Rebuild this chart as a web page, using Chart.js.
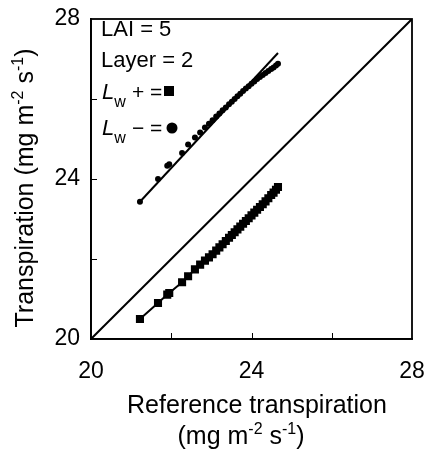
<!DOCTYPE html>
<html>
<head>
<meta charset="utf-8">
<script src="https://cdn.jsdelivr.net/npm/chart.js@4"></script>
<style>
  html, body { margin: 0; padding: 0; background: #fff; }
  #wrap { width: 427px; height: 453px; }
</style>
</head>
<body>
<div id="wrap"><canvas id="chart-transpiration" width="427" height="453"></canvas></div>
<script>
// reference transpiration (x) shared by both series
var reference_x = [21.22, 21.67, 21.9, 21.95, 22.27, 22.42, 22.59, 22.72, 22.84, 22.94,
  23.03, 23.12, 23.2, 23.28, 23.36, 23.44, 23.51, 23.58, 23.65, 23.72,
  23.79, 23.86, 23.93, 24.0, 24.07, 24.14, 24.21, 24.28, 24.35, 24.42,
  24.49, 24.55, 24.61, 24.66];
// Lw + (squares)
var lw_plus_y = [20.5, 20.9, 21.11, 21.15, 21.42, 21.57, 21.74, 21.86, 21.96, 22.04,
  22.12, 22.21, 22.29, 22.37, 22.45, 22.53, 22.6, 22.67, 22.74, 22.81,
  22.88, 22.95, 23.02, 23.09, 23.16, 23.23, 23.3, 23.37, 23.44, 23.52,
  23.6, 23.66, 23.73, 23.8];
// Lw - (circles)
var lw_minus_y = [23.43, 24.0, 24.33, 24.37, 24.65, 24.86, 25.04, 25.16, 25.29, 25.38,
  25.47, 25.56, 25.64, 25.72, 25.79, 25.87, 25.93, 26.0, 26.07, 26.13,
  26.2, 26.26, 26.32, 26.38, 26.44, 26.5, 26.55, 26.6, 26.65, 26.7,
  26.75, 26.79, 26.84, 26.88];
// straight line drawn through the Lw - points
var fit_x = [21.22, 24.66];
var fit_minus_y = [23.43, 27.15];
// 1:1 line
var one_to_one = [20, 28];
var tick_labels = [20, 24, 28];
var minor_ticks = [22, 24, 26];

var FONT = '"Liberation Sans", Arial, sans-serif';

function pairs(xs, ys) {
  return xs.map(function (x, i) { return { x: x, y: ys[i] }; });
}

// text made of pieces (superscripts, subscripts), drawn left to right from x
function drawParts(ctx, parts, x, y) {
  parts.forEach(function (p) {
    ctx.font = p.font;
    ctx.fillText(p.text, x, y + (p.dy || 0));
    x += ctx.measureText(p.text).width;
  });
  return x;
}

function partsWidth(ctx, parts) {
  var w = 0;
  parts.forEach(function (p) {
    ctx.font = p.font;
    w += ctx.measureText(p.text).width;
  });
  return w;
}

var unitParts = [
  { text: "(mg m", font: "25px " + FONT },
  { text: "-2", font: "16px " + FONT, dy: -10 },
  { text: " s", font: "25px " + FONT },
  { text: "-1", font: "16px " + FONT, dy: -10 },
  { text: ")", font: "25px " + FONT },
];

var decorPlugin = {
  id: "decor",
  afterDraw: function (chart) {
    var ctx = chart.ctx;
    var a = chart.chartArea;
    var xs = chart.scales.x;
    var ys = chart.scales.y;
    ctx.save();
    ctx.strokeStyle = "#000";
    ctx.fillStyle = "#000";
    ctx.lineWidth = 1.8;
    ctx.strokeRect(a.left, a.top, a.right - a.left, a.bottom - a.top);

    // inner ticks
    ctx.lineWidth = 1;
    minor_ticks.forEach(function (v) {
      var px = Math.round(xs.getPixelForValue(v)) + 0.5;
      ctx.beginPath();
      ctx.moveTo(px, a.bottom);
      ctx.lineTo(px, a.bottom - 6);
      ctx.stroke();
      var py = Math.round(ys.getPixelForValue(v)) + 0.5;
      ctx.beginPath();
      ctx.moveTo(a.left, py);
      ctx.lineTo(a.left + 6, py);
      ctx.stroke();
    });

    // legend text in the plot
    ctx.textBaseline = "alphabetic";
    ctx.textAlign = "left";
    ctx.font = "22px " + FONT;
    ctx.fillText("LAI = 5", 101, 36);
    ctx.fillText("Layer = 2", 101, 67);

    var small = "21px " + FONT;
    drawParts(ctx, [
      { text: "L", font: "italic 22px " + FONT },
      { text: "w", font: "16px " + FONT, dy: 8 },
    ], 102, 99);
    ctx.font = small;
    ctx.fillText("+", 132, 99);
    ctx.fillText("=", 150, 99);
    ctx.fillRect(164, 86, 10, 10);

    drawParts(ctx, [
      { text: "L", font: "italic 22px " + FONT },
      { text: "w", font: "16px " + FONT, dy: 8 },
    ], 102, 135);
    ctx.font = small;
    ctx.fillText("\u2212", 132, 135);
    ctx.fillText("=", 150, 135);
    ctx.beginPath();
    ctx.arc(172, 128, 5.5, 0, Math.PI * 2);
    ctx.fill();

    // x title
    ctx.font = "25px " + FONT;
    ctx.textAlign = "center";
    ctx.fillText("Reference transpiration", 257, 413);
    ctx.textAlign = "left";
    var uw = partsWidth(ctx, unitParts);
    drawParts(ctx, unitParts, 241 - uw / 2, 444);

    // y title
    ctx.translate(33, 0);
    ctx.rotate(-Math.PI / 2);
    var yParts = [{ text: "Transpiration ", font: "25px " + FONT }].concat(unitParts);
    var yw = partsWidth(ctx, yParts);
    drawParts(ctx, yParts, -188 - yw / 2, 0);
    ctx.restore();
  },
};

var ctx = document.getElementById("chart-transpiration").getContext("2d");

new Chart(ctx, {
  type: "scatter",
  data: {
    datasets: [
      {
        label: "1:1",
        data: pairs(one_to_one, one_to_one),
        showLine: true,
        borderColor: "#000",
        borderWidth: 2,
        pointRadius: 0,
      },
      {
        label: "fit Lw -",
        data: pairs(fit_x, fit_minus_y),
        showLine: true,
        borderColor: "#000",
        borderWidth: 2,
        pointRadius: 0,
      },
      {
        label: "Lw -",
        data: pairs(reference_x, lw_minus_y),
        showLine: false,
        pointStyle: "circle",
        pointRadius: 3,
        backgroundColor: "#000",
        borderColor: "#000",
        borderWidth: 0,
      },
      {
        label: "Lw +",
        data: pairs(reference_x, lw_plus_y),
        showLine: true,
        borderColor: "#000",
        borderWidth: 2,
        pointStyle: "rect",
        pointRadius: 4.3,
        backgroundColor: "#000",
      },
    ],
  },
  options: {
    responsive: false,
    animation: false,
    layout: {
      padding: { left: 0, top: 19, right: 15, bottom: 0 },
    },
    plugins: {
      legend: { display: false },
      tooltip: { enabled: false },
    },
    scales: {
      x: {
        type: "linear",
        min: 20,
        max: 28,
        afterFit: function (scale) {
          scale.height = 114;
          scale.paddingLeft = 0;
          scale.paddingRight = 0;
        },
        grid: { display: false, drawTicks: false },
        border: { display: true, color: "#000", width: 1.8 },
        ticks: {
          stepSize: 2,
          padding: 19,
          maxRotation: 0,
          autoSkip: false,
          color: "#000",
          font: { size: 23, family: FONT },
          callback: function (value) {
            return tick_labels.indexOf(value) >= 0 ? String(value) : "";
          },
        },
      },
      y: {
        type: "linear",
        min: 20,
        max: 28,
        afterFit: function (scale) {
          scale.width = 91;
          scale.paddingTop = 0;
          scale.paddingBottom = 0;
        },
        grid: { display: false, drawTicks: false },
        border: { display: true, color: "#000", width: 1.8 },
        ticks: {
          stepSize: 2,
          padding: 11,
          autoSkip: false,
          color: "#000",
          font: { size: 23, family: FONT },
          callback: function (value) {
            return tick_labels.indexOf(value) >= 0 ? String(value) : "";
          },
        },
      },
    },
  },
  plugins: [decorPlugin],
});
</script>
</body>
</html>
